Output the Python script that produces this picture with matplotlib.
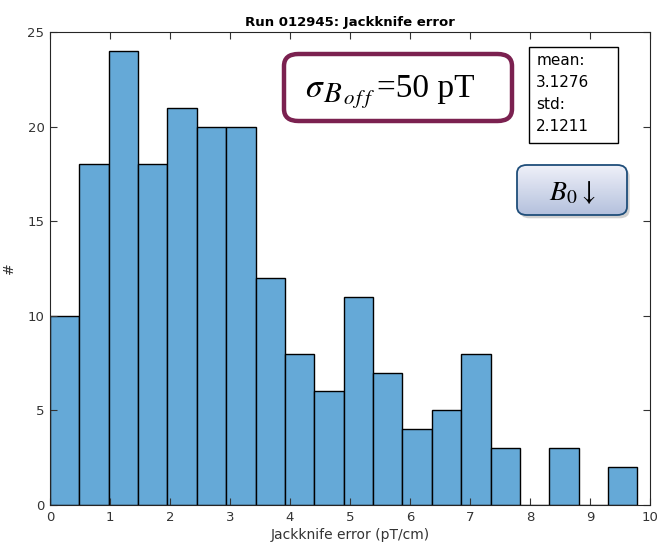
import numpy as np
import matplotlib.pyplot as plt
from matplotlib.patches import FancyBboxPatch
from matplotlib.colors import LinearSegmentedColormap
from matplotlib.text import Annotation

# histogram of jackknife errors, 20 bins between min and max of the sample
counts = [10, 18, 24, 18, 21, 20, 20, 12, 8, 6, 11, 7, 4, 5, 8, 3, 0, 3, 0, 2]
err_min = 0.0
err_max = 9.79
mean_val = 3.1276
std_val = 2.1211

title = 'Run 012945: Jackknife error'
xlabel = 'Jackknife error (pT/cm)'
ylabel = '#'

plt.rcParams['font.family'] = ['DejaVu Sans']
plt.rcParams['mathtext.fontset'] = 'stix'

fig = plt.figure(figsize=(6.59, 5.47), dpi=100)
ax = fig.add_axes([0.0759, 0.0768, 0.9104, 0.8647])

edges = np.linspace(err_min, err_max, len(counts) + 1)
ax.bar(edges[:-1], counts, width=np.diff(edges), align='edge',
       color='#65a9d7', edgecolor='black', linewidth=1.0)

ax.set_xlim(0, 10)
ax.set_ylim(0, 25)
ax.set_xticks(range(0, 11))
ax.set_yticks(range(0, 26, 5))
ax.tick_params(direction='in', top=True, right=True, length=5, width=0.8,
               labelsize=9.5, colors='#333333', pad=4)
for s in ax.spines.values():
    s.set_linewidth(0.8)
    s.set_color('#262626')

ax.set_title(title, fontsize=9.5, fontweight='bold', pad=4)
ax.set_xlabel(xlabel, fontsize=10, color='#333333', labelpad=3)
ax.set_ylabel(ylabel, fontsize=10, color='#333333', labelpad=8)


def px(x, y):
    # figure pixel (from top-left) to figure fraction
    return x / 659, 1 - y / 547


# sigma annotation with rounded maroon frame
x0, y1 = px(284, 54)
x1, y0 = px(512, 121)
sig_box = FancyBboxPatch((x0, y0), x1 - x0, y1 - y0,
                         boxstyle='round,pad=0,rounding_size=0.022',
                         transform=fig.transFigure, facecolor='white',
                         edgecolor='#7b2150', linewidth=3.2, zorder=5)
fig.patches.append(sig_box)

# sigma with a two-level subscript, built piece by piece so the
# subscripts stay large
sx, base = px(305, 97)
prev = fig.text(sx, base, r'$\sigma$', fontsize=24, va='baseline', zorder=6)
pieces = [(r'$B$', 21, -3.8, -1.0),
          (r'$o\,f\,f$', 15, -5.2, 0.0),
          ('=50 pT', 24, 0.0, 1.5)]
for txt, size, dy, dx in pieces:
    a = Annotation(txt, xy=(1, base), xycoords=(prev, 'figure fraction'),
                   xytext=(dx, dy), textcoords='offset points',
                   fontsize=size, va='baseline', ha='left', zorder=6,
                   family='Liberation Serif', annotation_clip=False)
    fig.add_artist(a)
    prev = a

# stats box
x0, y1 = px(529, 47)
x1, y0 = px(618, 143)
fig.patches.append(plt.Rectangle((x0, y0), x1 - x0, y1 - y0,
                                 transform=fig.transFigure, facecolor='white',
                                 edgecolor='black', linewidth=1.0, zorder=5))
fig.text(x0 + 0.011, y1 - 0.011,
         'mean:\n%.4f\nstd:\n%.4f' % (mean_val, std_val),
         fontsize=11, ha='left', va='top', linespacing=1.58, zorder=6)

# B0 label with gradient fill and drop shadow
x0, y1 = px(517, 165)
x1, y0 = px(627, 215)
shadow = FancyBboxPatch((x0 + 0.004, y0 - 0.006), x1 - x0, y1 - y0,
                        boxstyle='round,pad=0,rounding_size=0.015',
                        transform=fig.transFigure, facecolor='#9a9a9a',
                        edgecolor='none', alpha=0.45, zorder=4)
fig.patches.append(shadow)
b0_box = FancyBboxPatch((x0, y0), x1 - x0, y1 - y0,
                        boxstyle='round,pad=0,rounding_size=0.015',
                        transform=fig.transFigure, facecolor='none',
                        edgecolor='#1f4e7a', linewidth=1.3, zorder=7)
fig.patches.append(b0_box)
grad_ax = fig.add_axes([x0, y0, x1 - x0, y1 - y0], zorder=6)
grad_ax.axis('off')
grad = np.linspace(0, 1, 100).reshape(-1, 1)
cmap = LinearSegmentedColormap.from_list('b0', ['#f0f2f9', '#b4c0dd'])
im = grad_ax.imshow(grad, aspect='auto', cmap=cmap, extent=[0, 1, 0, 1],
                    origin='upper', transform=grad_ax.transAxes)
clip = FancyBboxPatch((x0, y0), x1 - x0, y1 - y0,
                      boxstyle='round,pad=0,rounding_size=0.015',
                      transform=fig.transFigure, facecolor='none', edgecolor='none')
im.set_clip_path(clip)
grad_ax.text(0.5, 0.46, r'$B_0\downarrow$', fontsize=20, ha='center',
             va='center', transform=grad_ax.transAxes)

fig.savefig('out.png', dpi=100)
